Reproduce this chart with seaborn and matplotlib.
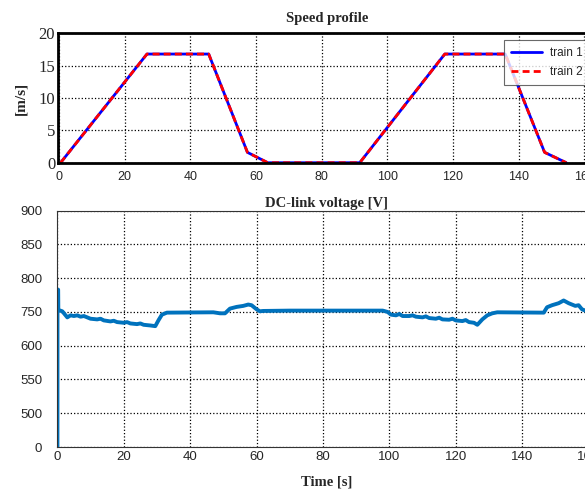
import numpy as np
import pandas as pd
import matplotlib
matplotlib.use("Agg")
import matplotlib.pyplot as plt
import seaborn as sns

# speed profile (both trains follow the same profile)
speed_t = [0.5, 26.8, 45.6, 57.4, 63.6, 91.6, 117.5, 135.9, 147.9, 154.5]
speed_train1 = [0.0, 16.8, 16.8, 1.6, 0.0, 0.0, 16.8, 16.8, 1.6, 0.0]
speed_train2 = [0.0, 16.8, 16.8, 1.6, 0.0, 0.0, 16.8, 16.8, 1.6, 0.0]

# DC-link voltage
volt_t = [0.0, 0.05, 0.25, 0.3, 1.5, 3.0, 4.0, 5.0, 6.0, 7.0, 8.0, 9.0, 10.0,
          12.0, 13.0, 14.0, 16.0, 17.0, 18.0, 20.0, 21.0, 22.0, 24.0, 25.0,
          26.0, 28.0, 29.5, 30.5, 31.5, 33.0, 47.0, 49.0, 50.5, 52.0, 54.0,
          56.0, 57.5, 58.5, 60.0, 61.0, 62.0, 70.0, 98.0, 99.5, 100.5, 102.0,
          103.0, 104.0, 106.0, 107.0, 108.0, 110.0, 111.0, 112.0, 114.0, 115.0,
          116.0, 118.0, 119.0, 120.0, 122.0, 123.0, 124.0, 125.5, 126.5, 128.0,
          129.5, 131.0, 132.5, 146.5, 147.5, 149.0, 151.0, 152.5, 154.0, 155.0,
          156.0, 157.0, 158.0, 159.0, 163.0]
volt_v = [0, 783, 783, 753, 751, 742, 745, 744, 745, 743, 744, 742, 740,
          739, 740, 737.5, 736, 737, 735, 734, 735, 733, 732, 733,
          731, 730, 729, 738, 746, 749, 749.5, 748, 748, 755, 757.5,
          759, 761, 760, 754, 751, 751.5, 752, 752, 750, 746, 745,
          747, 744, 744, 745, 743, 742, 743.5, 741, 740, 741.5,
          739, 738.5, 740, 737.5, 736.5, 738, 735, 734, 731, 739,
          745, 748, 749.5, 749, 757, 760, 763, 767, 763, 761,
          759, 760, 754, 752, 752]

volt_ticks = [550, 600, 650, 700, 750, 800, 850, 900]
volt_ticklabels = ["0", "500", "550", "600", "750", "800", "850", "900"]

sns.set_style("white")
plt.rcParams["font.family"] = ["Liberation Sans", "DejaVu Sans"]

fig = plt.figure(figsize=(5.85, 4.91), dpi=100)
ax1 = fig.add_axes([0.0991, 0.6686, 0.92, 0.2635])
ax2 = fig.add_axes([0.0980, 0.0896, 0.92, 0.4813])

df_speed = pd.DataFrame({"t": speed_t, "train 1": speed_train1, "train 2": speed_train2})
sns.lineplot(data=df_speed, x="t", y="train 1", ax=ax1, color="#0000ff",
             linewidth=2, label="train 1")
sns.lineplot(data=df_speed, x="t", y="train 2", ax=ax1, color="#ff0000",
             linewidth=2, linestyle=(0, (2.5, 1.5)), label="train 2")
ax1.set_xlim(-0.3, 163.6)
ax1.set_ylim(0, 20)
ax1.set_xticks(np.arange(0, 161, 20))
ax1.set_yticks([0, 5, 10, 15, 20])
ax1.set_xlabel("")
ax1.set_ylabel("[m/s]", fontsize=11, fontfamily="Liberation Serif",
               fontweight="bold", labelpad=8)
ax1.set_title("Speed profile", fontsize=10.5, fontfamily="Liberation Serif",
              fontweight="bold", pad=8)
for lab in ax1.get_yticklabels():
    lab.set_fontfamily("Liberation Serif")
    lab.set_fontsize(12)
ax1.tick_params(axis="x", labelsize=9, direction="in", length=3, pad=6)
ax1.tick_params(axis="y", direction="in", length=3, pad=2)
ax1.grid(True, color="black", linestyle=":", linewidth=0.9)
for s in ["top", "bottom", "left"]:
    ax1.spines[s].set_linewidth(2)
    ax1.spines[s].set_color("black")
leg = ax1.legend(loc="upper right", bbox_to_anchor=(0.993, 0.97), fontsize=8.5,
                 frameon=True, fancybox=False, handlelength=2.6, borderpad=0.6,
                 labelspacing=0.6, handletextpad=0.7, borderaxespad=0.2)
leg.get_frame().set_edgecolor("#444444")
leg.get_frame().set_linewidth(0.8)

df_volt = pd.DataFrame({"t": volt_t, "v": volt_v})
sns.lineplot(data=df_volt, x="t", y="v", ax=ax2, color="#0072BD", linewidth=2.8)
ax2.set_xlim(0, 162.1)
ax2.set_ylim(550, 900)
ax2.set_xticks(np.arange(0, 161, 20))
ax2.set_yticks(volt_ticks)
ax2.set_yticklabels(volt_ticklabels)
ax2.set_ylabel("")
ax2.set_xlabel("Time [s]", fontsize=10.5, fontfamily="Liberation Serif",
               fontweight="bold", labelpad=9)
ax2.set_title("DC-link voltage [V]", fontsize=10.5, fontfamily="Liberation Serif",
              fontweight="bold", pad=3)
ax2.tick_params(axis="both", labelsize=9.5, direction="in", length=3, pad=3)
ax2.tick_params(axis="y", pad=11)
ax2.grid(True, color="black", linestyle=":", linewidth=0.9)
for s in ["top", "bottom", "left"]:
    ax2.spines[s].set_linewidth(0.8)
    ax2.spines[s].set_color("#333333")

fig.savefig("out.png", dpi=100)
